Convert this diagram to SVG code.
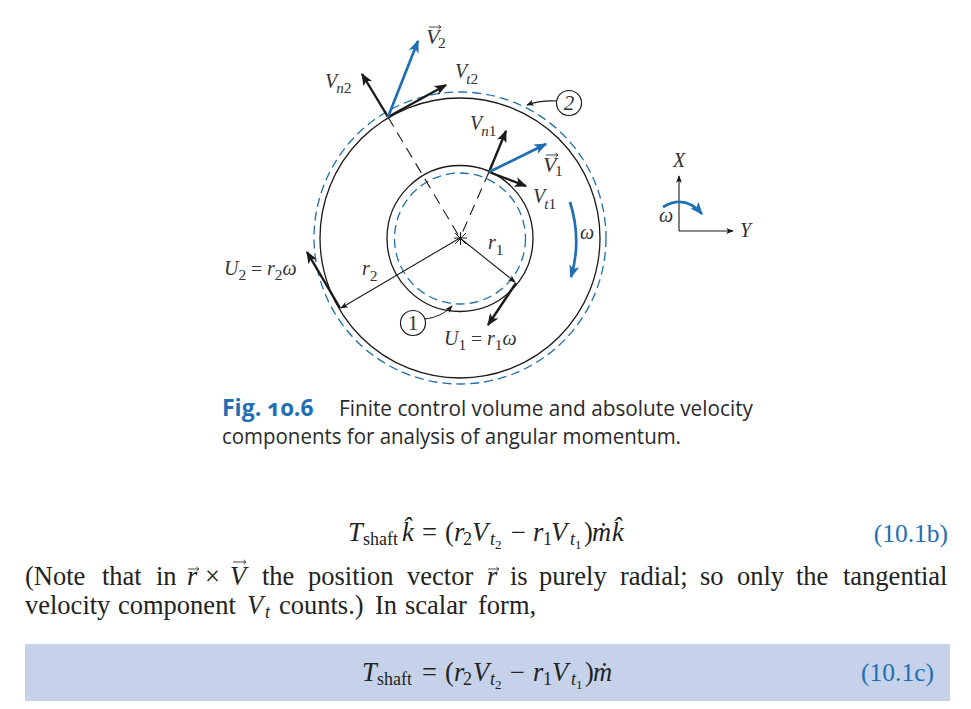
<svg xmlns="http://www.w3.org/2000/svg" width="971" height="709" viewBox="0 0 971 709">
<style>
text{font-family:"Liberation Serif","Times New Roman",serif;fill:#222}
.l{font-size:20px;font-style:italic;fill:#333}
.v{font-size:22px;font-style:italic;fill:#333}
.s{font-size:15px;font-style:italic;fill:#333}
.n{font-size:15.500px;font-style:normal;fill:#333}
.r{font-size:19.500px;font-style:normal;fill:#333}
.cap{font-family:"Open Sans","Noto Sans",sans-serif;font-size:21px;fill:#2a2a2a}
.capb{font-family:"Open Sans","Noto Sans",sans-serif;font-size:23px;font-weight:700;fill:#1f6fb2;font-variant-numeric:oldstyle-nums}
.b{font-size:26.500px;fill:#222}
.i{font-style:italic}
.sm{font-size:18px}
.xs{font-size:13px}
.eqn{font-size:25.500px;fill:#1f6fb2}
.sol{fill:none;stroke:#1a1a1a;stroke-width:1.3}
.dash{fill:none;stroke:#1f6fa8;stroke-width:1.3;stroke-dasharray:9 5}
.rad{stroke:#1a1a1a;stroke-width:1.1;stroke-dasharray:11 7;fill:none}
.k{stroke:#1a1a1a;stroke-width:2.4;fill:none;marker-end:url(#ak)}
.bl{stroke:#1f6fb2;stroke-width:2.700;fill:none;marker-end:url(#ab)}
.th{stroke:#1a1a1a;stroke-width:1.100;fill:none;marker-end:url(#at)}
.nc{fill:#fff;stroke:#1a1a1a;stroke-width:1.200}
.acc{stroke:#333;stroke-width:.9;fill:none}
</style>
<defs>
<marker id="ak" viewBox="0 0 10 8" refX="9" refY="4" markerUnits="userSpaceOnUse" markerWidth="13" markerHeight="10" orient="auto"><path d="M0 0L10 4L0 8L2.500 4Z" fill="#1a1a1a"/></marker>
<marker id="ab" viewBox="0 0 10 8" refX="9" refY="4" markerUnits="userSpaceOnUse" markerWidth="13" markerHeight="11" orient="auto"><path d="M0 0L10 4L0 8L2.500 4Z" fill="#1f6fb2"/></marker>
<marker id="at" viewBox="0 0 10 8" refX="9" refY="4" markerUnits="userSpaceOnUse" markerWidth="9" markerHeight="6" orient="auto"><path d="M0 0L10 4L0 8L2.500 4Z" fill="#1a1a1a"/></marker>
</defs>
<rect width="971" height="709" fill="#fff"/>
<rect x="25" y="644" width="925" height="57" fill="#c5d2ea"/>

<g id="control-volume">
<circle class="sol" cx="460" cy="238" r="140"/>
<circle class="dash" cx="460" cy="238" r="146"/>
<circle class="sol" cx="460" cy="238.500" r="73"/>
<circle class="dash" cx="460" cy="238.500" r="65.500"/>
<path d="M454 238H467M460.500 232V245M455 233L466 244M466 233L455 244" stroke="#1a1a1a" stroke-width="1"/>
</g>

<g id="connectors">
<path class="rad" d="M388 117L460 238M489 172L460 238"/>
<path class="th" d="M460 238L341 308"/>
<path class="th" d="M460 238L515 282"/>
<path class="k" d="M388 117L362 74"/>
<path class="k" d="M388 117L446 85"/>
<path class="bl" d="M388 117L418 41"/>
<path class="k" d="M489 172L506 131"/>
<path class="k" d="M489 172L526 186"/>
<path class="bl" d="M489 172L546 144"/>
<path class="k" d="M516 283L488 325"/>
<path class="k" d="M340 308L307 252"/>
<path class="bl" d="M570 202Q582 240 571 277"/>
<path class="th" d="M557 101Q540 100 527 105"/>
<path class="th" d="M425 319Q442 317 452 306"/>
<path class="th" d="M679 231V176"/>
<path class="th" d="M679 231H733"/>
<path class="bl" d="M663 207Q685 194 702 214"/>
</g>

<g id="station-1"><circle class="nc" cx="413" cy="323" r="12.500"/><text x="413" y="330" class="r" text-anchor="middle" style="font-size:21px">1</text></g>
<g id="station-2"><circle class="nc" cx="569" cy="103" r="12.500"/><text x="569" y="110" class="l" text-anchor="middle" style="font-size:21px">2</text></g>

<g id="labels">
<text class="v" x="426" y="44">V</text><path class="acc" d="M429 27H441M438.500 25L441 27L438.500 29"/><text class="n" x="438" y="48">2</text>
<text class="l" x="325" y="88">V<tspan class="s" dy="5" dx="-1">n</tspan><tspan class="n">2</tspan></text>
<text class="l" x="455" y="78">V<tspan class="s" dy="6" dx="-1">t</tspan><tspan class="n">2</tspan></text>
<text class="l" x="470" y="130">V<tspan class="s" dy="6" dx="-1">n</tspan><tspan class="n">1</tspan></text>
<text class="v" x="543" y="172">V</text><path class="acc" d="M546 155H558M555.500 153L558 155L555.500 157"/><text class="n" x="555" y="176">1</text>
<text class="l" x="533" y="203">V<tspan class="s" dy="6" dx="-1">t</tspan><tspan class="n">1</tspan></text>
<text class="l" x="580" y="239">ω</text>
<text class="l" x="224" y="275">U<tspan class="n" dy="5">2</tspan><tspan class="r" dy="-5"> = </tspan>r<tspan class="n" dy="5">2</tspan><tspan dy="-5">ω</tspan></text>
<text class="l" x="362" y="275">r<tspan class="n" dy="6">2</tspan></text>
<text class="l" x="488" y="249">r<tspan class="n" dy="6">1</tspan></text>
<text class="l" x="444" y="345">U<tspan class="n" dy="5">1</tspan><tspan class="r" dy="-5"> = </tspan>r<tspan class="n" dy="5">1</tspan><tspan dy="-5">ω</tspan></text>
<text class="l" x="673" y="167">X</text>
<text class="l" x="740" y="237">Y</text>
<text class="l" x="659" y="222">ω</text>
</g>

<g id="caption">
<text class="capb" x="222" y="416">Fig. 10.6</text>
<text class="cap" x="339" y="416" textLength="414" lengthAdjust="spacingAndGlyphs">Finite control volume and absolute velocity</text>
<text class="cap" x="222" y="444" textLength="459" lengthAdjust="spacingAndGlyphs">components for analysis of angular momentum.</text>
</g>

<g id="body">
<text class="b" y="541"><tspan class="i" x="348">T</tspan><tspan class="sm" x="363" dy="4">shaft</tspan><tspan class="i" x="402" dy="-4">k̂</tspan><tspan x="422">=</tspan><tspan x="445">(</tspan><tspan class="i" x="454">r</tspan><tspan class="sm" x="463" dy="4">2</tspan><tspan class="i" x="472" dy="-4">V</tspan><tspan class="i sm" x="490" dy="4">t</tspan><tspan class="xs" x="495" dy="4">2</tspan><tspan x="511" dy="-8">−</tspan><tspan class="i" x="533">r</tspan><tspan class="sm" x="543" dy="4">1</tspan><tspan class="i" x="551" dy="-4">V</tspan><tspan class="i sm" x="570" dy="4">t</tspan><tspan class="xs" x="575" dy="4">1</tspan><tspan x="584" dy="-8">)</tspan><tspan class="i" x="592">ṁ</tspan><tspan class="i" x="612">k̂</tspan></text>
<text class="eqn" x="948" y="542" text-anchor="end">(10.1b)</text>
<text class="b" y="585"><tspan x="25">(Note</tspan><tspan x="102">that</tspan><tspan x="156">in</tspan><tspan class="i" x="187">r</tspan><tspan x="205">×</tspan><tspan class="i" x="230">V</tspan><tspan x="262">the</tspan><tspan x="308">position</tspan><tspan x="407">vector</tspan><tspan class="i" x="487">r</tspan><tspan x="510">is</tspan><tspan x="539">purely</tspan><tspan x="620">radial;</tspan><tspan x="700">so</tspan><tspan x="737">only</tspan><tspan x="796">the</tspan><tspan x="843">tangential</tspan></text>
<path class="acc" d="M188 569H199M196.500 567L199 569L196.500 571"/>
<path class="acc" d="M233 562H246M243.500 560L246 562L243.500 564"/>
<path class="acc" d="M488 569H499M496.500 567L499 569L496.500 571"/>
<text class="b" y="614"><tspan x="25">velocity</tspan><tspan x="118">component</tspan><tspan class="i" x="247">V</tspan><tspan class="i sm" x="265" dy="4">t</tspan><tspan x="279" dy="-4">counts.)</tspan><tspan x="375">In</tspan><tspan x="405">scalar</tspan><tspan x="478">form,</tspan></text>
</g>

<g id="equation">
<text class="b" y="681"><tspan class="i" x="362">T</tspan><tspan class="sm" x="377" dy="4">shaft</tspan><tspan x="422" dy="-4">=</tspan><tspan x="445">(</tspan><tspan class="i" x="454">r</tspan><tspan class="sm" x="463" dy="4">2</tspan><tspan class="i" x="473" dy="-4">V</tspan><tspan class="i sm" x="490" dy="4">t</tspan><tspan class="xs" x="495" dy="4">2</tspan><tspan x="510" dy="-8">−</tspan><tspan class="i" x="533">r</tspan><tspan class="sm" x="543" dy="4">1</tspan><tspan class="i" x="552" dy="-4">V</tspan><tspan class="i sm" x="571" dy="4">t</tspan><tspan class="xs" x="576" dy="4">1</tspan><tspan x="585" dy="-8">)</tspan><tspan class="i" x="593">ṁ</tspan></text>
<text class="eqn" x="934" y="681" text-anchor="end">(10.1c)</text>
</g>
</svg>
